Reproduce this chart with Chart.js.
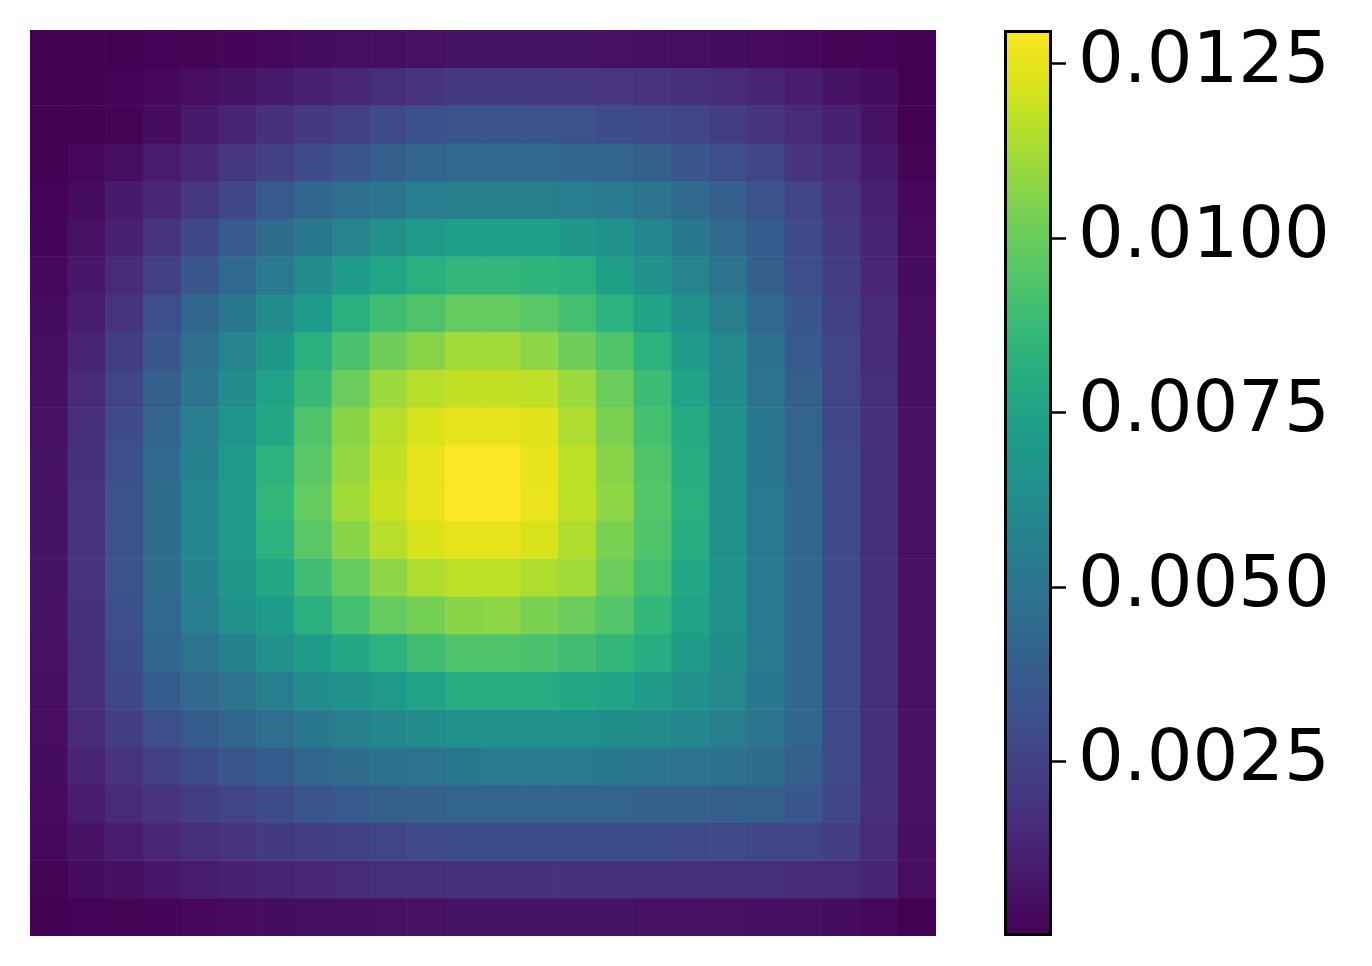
<!DOCTYPE html>
<html>
<head>
<meta charset="utf-8">
<script src="https://cdn.jsdelivr.net/npm/chart.js@4.4.1/dist/chart.umd.min.js"></script>
<style>
  html, body { margin: 0; padding: 0; background: #ffffff; }
  #wrap { position: relative; width: 1372px; height: 966px; background: #ffffff; overflow: hidden; }
  #heat { position: absolute; left: 30px; top: 30px; }
  #cbar { position: absolute; left: 1004px; top: 0px; }
</style>
</head>
<body>
<div id="wrap">
  <canvas id="heat" width="906" height="906"></canvas>
  <canvas id="cbar" width="368" height="966"></canvas>
</div>
<script>
// ---- data ----
const columns = ['0','1','2','3','4','5','6','7','8','9','10','11','12','13','14','15','16','17','18','19','20','21','22','23'];
const rows = ['0','1','2','3','4','5','6','7','8','9','10','11','12','13','14','15','16','17','18','19','20','21','22','23'];

const row0  = [0, 0, 0, 0.00006, 0.00013, 0.00019, 0.00026, 0.00039, 0.00045, 0.00052, 0.00058, 0.00065, 0.00065, 0.00065, 0.00065, 0.00058, 0.00052, 0.00045, 0.00039, 0.00032, 0.00026, 0.00013, 0.00006, 0];
const row1  = [0, 0, 0.00006, 0.00026, 0.00045, 0.00065, 0.00091, 0.00117, 0.00143, 0.00169, 0.00195, 0.00214, 0.00214, 0.00214, 0.00208, 0.00201, 0.00188, 0.00175, 0.00156, 0.00130, 0.00104, 0.00065, 0.00039, 0];
const row2  = [0, 0.00004, 0.00013, 0.00039, 0.00091, 0.00130, 0.00182, 0.00221, 0.00247, 0.00286, 0.00318, 0.00331, 0.00331, 0.00331, 0.00325, 0.00299, 0.00286, 0.00260, 0.00234, 0.00195, 0.00156, 0.00117, 0.00065, 0];
const row3  = [0, 0.00026, 0.00052, 0.00104, 0.00143, 0.00208, 0.00247, 0.00299, 0.00337, 0.00389, 0.00415, 0.00441, 0.00441, 0.00441, 0.00428, 0.00415, 0.00389, 0.00350, 0.00312, 0.00260, 0.00195, 0.00156, 0.00091, 0.00013];
const row4  = [0.00006, 0.00039, 0.00091, 0.00143, 0.00208, 0.00273, 0.00363, 0.00428, 0.00467, 0.00506, 0.00545, 0.00558, 0.00558, 0.00558, 0.00545, 0.00532, 0.00493, 0.00441, 0.00389, 0.00325, 0.00260, 0.00195, 0.00117, 0.00026];
const row5  = [0.00019, 0.00058, 0.00117, 0.00195, 0.00273, 0.00363, 0.00454, 0.00519, 0.00584, 0.00649, 0.00701, 0.00727, 0.00727, 0.00727, 0.00688, 0.00649, 0.00597, 0.00519, 0.00441, 0.00376, 0.00286, 0.00208, 0.00130, 0.00032];
const row6  = [0.00026, 0.00078, 0.00156, 0.00247, 0.00350, 0.00441, 0.00532, 0.00623, 0.00714, 0.00766, 0.00818, 0.00857, 0.00857, 0.00844, 0.00818, 0.00740, 0.00649, 0.00584, 0.00493, 0.00389, 0.00312, 0.00234, 0.00143, 0.00039];
const row7  = [0.00039, 0.00104, 0.00195, 0.00312, 0.00428, 0.00519, 0.00623, 0.00714, 0.00818, 0.00896, 0.00935, 0.00986, 0.00986, 0.00961, 0.00909, 0.00831, 0.00753, 0.00649, 0.00558, 0.00441, 0.00350, 0.00247, 0.00156, 0.00045];
const row8  = [0.00045, 0.00130, 0.00234, 0.00350, 0.00467, 0.00584, 0.00688, 0.00818, 0.00922, 0.01012, 0.01064, 0.01116, 0.01116, 0.01077, 0.01012, 0.00935, 0.00831, 0.00714, 0.00610, 0.00480, 0.00363, 0.00260, 0.00156, 0.00052];
const row9  = [0.00052, 0.00156, 0.00260, 0.00389, 0.00506, 0.00623, 0.00753, 0.00870, 0.00999, 0.01103, 0.01155, 0.01181, 0.01181, 0.01168, 0.01103, 0.00999, 0.00883, 0.00753, 0.00623, 0.00506, 0.00389, 0.00260, 0.00169, 0.00052];
const row10 = [0.00058, 0.00169, 0.00286, 0.00415, 0.00545, 0.00662, 0.00779, 0.00935, 0.01064, 0.01155, 0.01220, 0.01253, 0.01253, 0.01233, 0.01142, 0.01038, 0.00909, 0.00792, 0.00649, 0.00519, 0.00415, 0.00273, 0.00169, 0.00058];
const row11 = [0.00065, 0.00182, 0.00312, 0.00441, 0.00571, 0.00701, 0.00831, 0.00961, 0.01090, 0.01181, 0.01253, 0.01298, 0.01298, 0.01253, 0.01168, 0.01064, 0.00935, 0.00805, 0.00649, 0.00519, 0.00415, 0.00286, 0.00169, 0.00058];
const row12 = [0.00065, 0.00195, 0.00325, 0.00454, 0.00597, 0.00714, 0.00857, 0.00986, 0.01116, 0.01194, 0.01253, 0.01298, 0.01298, 0.01259, 0.01168, 0.01077, 0.00948, 0.00818, 0.00649, 0.00532, 0.00428, 0.00286, 0.00169, 0.00058];
const row13 = [0.00065, 0.00195, 0.00325, 0.00454, 0.00597, 0.00714, 0.00831, 0.00961, 0.01064, 0.01155, 0.01220, 0.01253, 0.01253, 0.01220, 0.01142, 0.01038, 0.00935, 0.00805, 0.00649, 0.00532, 0.00428, 0.00286, 0.00169, 0.00058];
const row14 = [0.00065, 0.00195, 0.00325, 0.00454, 0.00571, 0.00688, 0.00779, 0.00896, 0.00986, 0.01077, 0.01142, 0.01168, 0.01168, 0.01142, 0.01116, 0.00999, 0.00909, 0.00779, 0.00649, 0.00532, 0.00428, 0.00286, 0.00169, 0.00058];
const row15 = [0.00065, 0.00182, 0.00312, 0.00441, 0.00545, 0.00649, 0.00714, 0.00818, 0.00909, 0.00986, 0.01025, 0.01064, 0.01077, 0.01038, 0.00999, 0.00948, 0.00857, 0.00753, 0.00649, 0.00532, 0.00428, 0.00286, 0.00169, 0.00058];
const row16 = [0.00058, 0.00182, 0.00299, 0.00428, 0.00493, 0.00571, 0.00649, 0.00714, 0.00779, 0.00831, 0.00896, 0.00935, 0.00935, 0.00922, 0.00896, 0.00857, 0.00805, 0.00714, 0.00636, 0.00532, 0.00428, 0.00286, 0.00169, 0.00058];
const row17 = [0.00052, 0.00169, 0.00273, 0.00376, 0.00441, 0.00493, 0.00558, 0.00623, 0.00649, 0.00701, 0.00753, 0.00805, 0.00805, 0.00805, 0.00779, 0.00753, 0.00714, 0.00649, 0.00610, 0.00519, 0.00428, 0.00286, 0.00169, 0.00058];
const row18 = [0.00045, 0.00156, 0.00234, 0.00312, 0.00376, 0.00428, 0.00467, 0.00519, 0.00558, 0.00597, 0.00623, 0.00649, 0.00649, 0.00649, 0.00649, 0.00636, 0.00623, 0.00597, 0.00558, 0.00506, 0.00428, 0.00286, 0.00169, 0.00058];
const row19 = [0.00039, 0.00130, 0.00195, 0.00247, 0.00299, 0.00350, 0.00376, 0.00428, 0.00454, 0.00480, 0.00493, 0.00519, 0.00532, 0.00532, 0.00532, 0.00519, 0.00506, 0.00493, 0.00480, 0.00454, 0.00389, 0.00286, 0.00169, 0.00058];
const row20 = [0.00032, 0.00104, 0.00156, 0.00195, 0.00234, 0.00260, 0.00299, 0.00337, 0.00363, 0.00389, 0.00402, 0.00415, 0.00415, 0.00415, 0.00415, 0.00415, 0.00402, 0.00402, 0.00389, 0.00389, 0.00350, 0.00273, 0.00169, 0.00058];
const row21 = [0.00026, 0.00065, 0.00104, 0.00143, 0.00169, 0.00195, 0.00221, 0.00234, 0.00247, 0.00260, 0.00286, 0.00299, 0.00299, 0.00299, 0.00299, 0.00299, 0.00299, 0.00286, 0.00286, 0.00273, 0.00260, 0.00234, 0.00156, 0.00052];
const row22 = [0.00013, 0.00039, 0.00052, 0.00078, 0.00104, 0.00117, 0.00130, 0.00143, 0.00156, 0.00169, 0.00169, 0.00182, 0.00182, 0.00182, 0.00182, 0.00182, 0.00182, 0.00182, 0.00169, 0.00169, 0.00156, 0.00156, 0.00130, 0.00045];
const row23 = [0, 0.00006, 0.00013, 0.00019, 0.00026, 0.00032, 0.00039, 0.00045, 0.00052, 0.00058, 0.00058, 0.00065, 0.00065, 0.00065, 0.00065, 0.00065, 0.00058, 0.00058, 0.00058, 0.00052, 0.00052, 0.00039, 0.00026, 0];

const colorbarTicks = [0.0025, 0.0050, 0.0075, 0.0100, 0.0125];

// viridis anchor colours (t = 0, 0.05, ..., 1)
const viridisStops = ['#440154','#471365','#482475','#463480','#414487','#3b528b','#355f8d','#2f6c8e','#2a788e','#25848e','#21918c','#1e9c89','#22a884','#2fb47c','#44bf70','#5ec962','#7ad151','#9bd93c','#bddf26','#dfe318','#fde725'];

// ---- helpers ----
const grid = [row0,row1,row2,row3,row4,row5,row6,row7,row8,row9,row10,row11,row12,row13,row14,row15,row16,row17,row18,row19,row20,row21,row22,row23];
const allVals = grid.flat();
const vmin = Math.min(...allVals);
const vmax = Math.max(...allVals);

function hexToRgb(h) {
  return [parseInt(h.slice(1,3),16), parseInt(h.slice(3,5),16), parseInt(h.slice(5,7),16)];
}
const stopRgb = viridisStops.map(hexToRgb);
function viridis(t) {
  t = Math.max(0, Math.min(1, t));
  const n = stopRgb.length - 1;
  const p = t * n;
  const i = Math.min(Math.floor(p), n - 1);
  const f = p - i;
  const a = stopRgb[i], b = stopRgb[i + 1];
  const c = a.map((v, k) => Math.round(v + (b[k] - v) * f));
  return `rgb(${c[0]},${c[1]},${c[2]})`;
}
function colorOf(v) { return viridis((v - vmin) / (vmax - vmin)); }

// ---- heatmap: one floating-bar dataset per row ----
const heatDatasets = grid.map((vals, r) => ({
  label: rows[r],
  data: vals.map(() => [r, r + 1]),
  backgroundColor: vals.map(colorOf),
  borderWidth: 0,
  grouped: false,
  barPercentage: 1,
  categoryPercentage: 1
}));

new Chart(document.getElementById('heat'), {
  type: 'bar',
  data: { labels: columns, datasets: heatDatasets },
  options: {
    responsive: false,
    animation: false,
    devicePixelRatio: 1,
    layout: { padding: 0 },
    plugins: { legend: { display: false }, tooltip: { enabled: false } },
    scales: {
      x: { display: false },
      y: { display: false, type: 'linear', min: 0, max: rows.length, reverse: true }
    }
  }
});

// ---- colorbar ----
new Chart(document.getElementById('cbar'), {
  type: 'bar',
  data: {
    labels: [''],
    datasets: [{
      data: [[vmin, vmax]],
      barPercentage: 1,
      categoryPercentage: 1,
      inflateAmount: 0,
      borderWidth: 3,
      borderColor: '#000000',
      borderSkipped: false,
      backgroundColor: (ctx) => {
        const chart = ctx.chart;
        const area = chart.chartArea;
        if (!area) return viridisStops[0];
        const g = chart.ctx.createLinearGradient(0, area.bottom, 0, area.top);
        viridisStops.forEach((c, i) => g.addColorStop(i / (viridisStops.length - 1), c));
        return g;
      }
    }]
  },
  options: {
    responsive: false,
    animation: false,
    devicePixelRatio: 1,
    layout: { padding: { top: 30, bottom: 30, left: 0, right: 0 } },
    plugins: { legend: { display: false }, tooltip: { enabled: false } },
    scales: {
      x: { display: false },
      y: {
        type: 'linear',
        position: 'right',
        min: vmin,
        max: vmax,
        border: { display: false },
        grid: {
          display: true,
          drawOnChartArea: false,
          drawTicks: true,
          tickLength: 14,
          tickWidth: 2.5,
          tickColor: '#000000'
        },
        ticks: {
          color: '#000000',
          padding: 12,
          font: { family: 'DejaVu Sans', size: 72, lineHeight: 0.8 },
          callback: (v) => Number(v).toFixed(4)
        },
        afterBuildTicks: (axis) => { axis.ticks = colorbarTicks.map(v => ({ value: v })); },
        afterFit: (scale) => { scale.width = 320; scale.paddingTop = 0; scale.paddingBottom = 0; }
      }
    }
  }
});
</script>
</body>
</html>
